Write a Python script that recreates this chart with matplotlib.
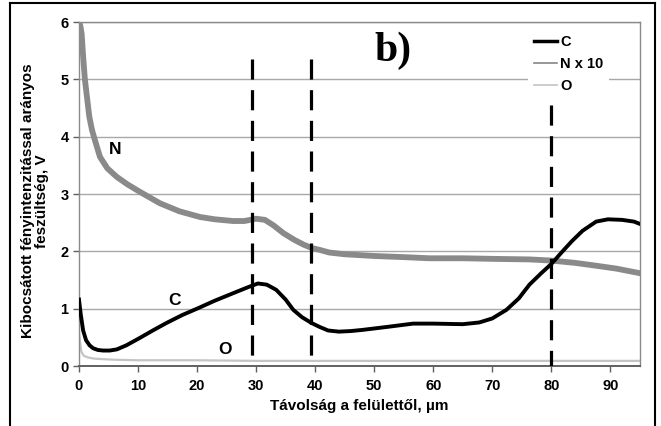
import matplotlib
matplotlib.use('Agg')
import matplotlib.pyplot as plt
from matplotlib.lines import Line2D

# C profile
c_x = [0, 0.3, 0.7, 1.2, 1.8, 2.4, 3.2, 4.1, 5.2, 6.4, 8.0, 10.3, 12.5, 14.8, 17.5, 20.2,
       23.0, 26.1, 28.5, 30.3, 31.8, 33.4, 35.0, 36.3, 37.8, 39.4, 40.8, 42.2, 44.0,
       46.0, 48.0, 52.0, 56.6, 60.0, 65.0, 67.8, 70.0, 72.4, 74.5, 76.3, 78.3, 80.0,
       81.9, 83.5, 85.3, 87.6, 89.6, 92.0, 94.0, 95.0]
c_y = [1.16, 0.9, 0.62, 0.45, 0.36, 0.31, 0.28, 0.27, 0.27, 0.29, 0.36, 0.49, 0.62,
       0.75, 0.89, 1.01, 1.14, 1.27, 1.37, 1.44, 1.42, 1.33, 1.16, 0.98, 0.85, 0.75,
       0.68, 0.62, 0.60, 0.61, 0.63, 0.68, 0.74, 0.74, 0.73, 0.76, 0.83, 0.98, 1.18,
       1.42, 1.62, 1.78, 2.0, 2.18, 2.36, 2.52, 2.56, 2.55, 2.52, 2.48]

# N x 10 profile
n_x = [0, 0.2, 0.45, 0.7, 1.0, 1.4, 1.75, 2.2, 2.7, 3.55, 4.8, 6.4, 8.2, 10.3, 13.7,
       17.0, 20.5, 23.0, 26.1, 28.0, 30.0, 31.5, 33.0, 34.6, 36.5, 38.0, 39.4, 41.0,
       42.4, 45.0, 50.0, 55.0, 59.4, 65.0, 70.0, 76.3, 80.0, 84.0, 87.6, 91.0, 95.0]
n_y = [5.95, 5.95, 5.8, 5.4, 5.0, 4.65, 4.35, 4.12, 3.94, 3.65, 3.45, 3.3, 3.17, 3.04,
       2.84, 2.7, 2.6, 2.56, 2.53, 2.53, 2.57, 2.55, 2.45, 2.32, 2.2, 2.12, 2.06, 2.02,
       1.98, 1.95, 1.92, 1.9, 1.88, 1.88, 1.87, 1.86, 1.84, 1.8, 1.75, 1.7, 1.62]

# O profile
o_x = [0, 0.15, 0.4, 0.8, 1.5, 2.5, 4.0, 6.0, 10.0, 20.0, 30.0, 40.0, 50.0, 60.0,
       70.0, 80.0, 90.0, 95.0]
o_y = [0.6, 0.45, 0.25, 0.18, 0.15, 0.13, 0.12, 0.11, 0.1, 0.1, 0.09, 0.09, 0.09,
       0.09, 0.09, 0.09, 0.09, 0.09]

# vertical dashed markers: position, top value
mark_x = [29.3, 39.3, 80.0]
mark_top = [5.35, 5.35, 4.55]

plt.rcParams['font.family'] = ['Liberation Sans', 'DejaVu Sans']
plt.rcParams['font.weight'] = 'bold'

fig = plt.figure(figsize=(6.61, 4.26), dpi=100)
ax = fig.add_axes([0.1195, 0.1408, 0.8485, 0.8072])

for v in range(1, 7):
    ax.axhline(v, color='#a8a8a8', lw=1.0, zorder=0)

ax.plot(n_x, n_y, color='#8a8a8a', lw=4.2, label='N x 10', zorder=2)
ax.plot(o_x, o_y, color='#c4c4c4', lw=1.6, label='O', zorder=2)
ax.plot(c_x, c_y, color='black', lw=2.8, label='C', zorder=3)

# drawn top-down so the first dash starts at the top end
for xm, top in zip(mark_x, mark_top):
    ax.plot([xm, xm], [top, 0], color='black', lw=2.3, dashes=(6.3, 3.3), zorder=4)

ax.text(6.1, 3.78, 'N', fontsize=12.5, fontweight='bold', ha='center', va='center')
ax.text(16.2, 1.15, 'C', fontsize=12.5, fontweight='bold', ha='center', va='center')
ax.text(24.7, 0.28, 'O', fontsize=12.5, fontweight='bold', ha='center', va='center')
ax.text(53.2, 5.5, 'b)', fontsize=30, fontweight='bold', family='Liberation Serif',
        ha='center', va='center')

handles = [Line2D([], [], color='black', lw=2.5),
           Line2D([], [], color='#858585', lw=1.2),
           Line2D([], [], color='#c4c4c4', lw=1.2)]
leg = ax.legend(handles, ['C', 'N x 10', 'O'], loc='upper right',
                bbox_to_anchor=(0.958, 1.0), frameon=True, framealpha=1,
                facecolor='white', edgecolor='none', fontsize=10.5,
                handlelength=1.6, handletextpad=0.2, labelspacing=0.55,
                borderpad=0.4)
leg.set_zorder(5)

ax.set_xlim(0, 95)
ax.set_ylim(0, 6)
ax.set_xticks(range(0, 100, 10))
ax.set_yticks(range(0, 7))
ax.tick_params(axis='both', labelsize=10.5, color='#606060', length=4, width=1)
ax.tick_params(axis='x', pad=5)
for lab in ax.get_xticklabels() + ax.get_yticklabels():
    lab.set_fontweight('bold')

for s in ax.spines.values():
    s.set_color('#8a8a8a')
    s.set_linewidth(1.0)
ax.spines['bottom'].set_color('#606060')
ax.spines['bottom'].set_linewidth(1.4)

ax.set_xlabel('Távolság a felülettől, µm', fontsize=11, fontweight='bold', labelpad=5)
ax.set_ylabel('Kibocsátott fényintenzitással arányos\nfeszültség, V', fontsize=11,
              fontweight='bold', linespacing=1.0)
ax.yaxis.set_label_coords(-0.053, 0.48)

# outer frame around the picture
W, H = 661, 426
fig.add_artist(Line2D([10 / W, 10 / W], [0, 1 - 3 / H], color='black', lw=1.5))
fig.add_artist(Line2D([10 / W, 655 / W], [1 - 3 / H, 1 - 3 / H], color='black', lw=1.5))
fig.add_artist(Line2D([655 / W, 655 / W], [0, 1 - 3 / H], color='black', lw=1.5))

fig.savefig('out.png', dpi=100)
